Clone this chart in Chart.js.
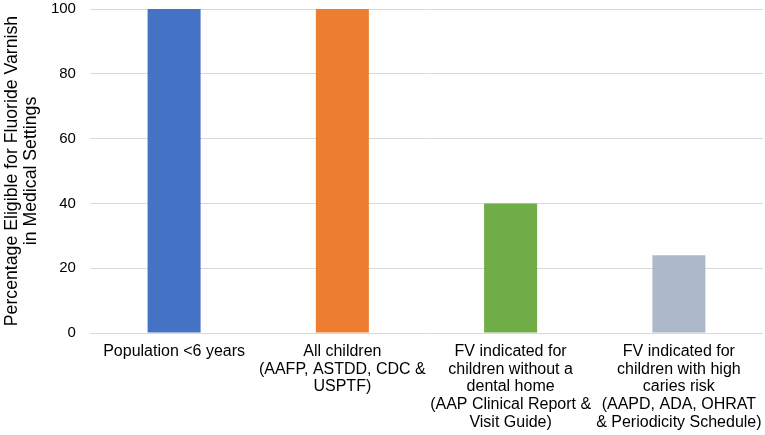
<!DOCTYPE html>
<html lang="en">
<head>
  <meta charset="UTF-8">
  <title>Fluoride Varnish Eligibility</title>
  <script src="https://cdn.jsdelivr.net/npm/chart.js"></script>
  <style>
    body { margin: 0; background: #fff; }
    #wrap { width: 765px; height: 435px; }
  </style>
</head>
<body>
  <div id="wrap"><canvas id="fvChart"></canvas></div>

  <script>
    const categories = [
      'Population <6 years',
      ['All children', '(AAFP, ASTDD, CDC &', 'USPTF)'],
      ['FV indicated for', 'children without a', 'dental home', '(AAP Clinical Report &', 'Visit Guide)'],
      ['FV indicated for', 'children with high', 'caries risk', '(AAPD, ADA, OHRAT', '& Periodicity Schedule)']
    ];
    const eligiblePct = [100, 100, 40, 24];
    const barColors = ['#4472C4', '#ED7D31', '#70AD47', '#ADB9CA'];
    const yTicks = [0, 20, 40, 60, 80, 100];
    const yTitle = ['Percentage Eligible for Fluoride Varnish', 'in Medical Settings'];

    Chart.defaults.font.family = '"Liberation Sans", Arial, sans-serif';
    Chart.defaults.color = '#000';

    new Chart(document.getElementById('fvChart'), {
      type: 'bar',
      data: {
        labels: categories,
        datasets: [{
          data: eligiblePct,
          backgroundColor: barColors,
          barPercentage: 0.315,
          categoryPercentage: 1
        }]
      },
      options: {
        responsive: true,
        maintainAspectRatio: false,
        animation: false,
        layout: { padding: { top: 0, right: 2, left: 0, bottom: 4 } },
        plugins: { legend: { display: false }, tooltip: { enabled: false } },
        scales: {
          x: {
            // hidden tick marks only reserve the gap above the labels
            grid: { display: false, drawTicks: true, tickLength: 10 },
            border: { display: false },
            ticks: { font: { size: 16, lineHeight: 1.1 }, maxRotation: 0, autoSkip: false, padding: 0 }
          },
          y: {
            min: 0,
            max: 100,
            afterBuildTicks: (axis) => { axis.ticks = yTicks.map(v => ({ value: v })); },
            grid: { color: '#d9d9d9', drawTicks: true, tickLength: 14, tickColor: 'rgba(0,0,0,0)' },
            border: { display: false },
            ticks: { font: { size: 15 }, padding: 0 },
            title: {
              display: true, text: yTitle,
              font: { size: 17.7, lineHeight: 1.1 },
              padding: { top: 2, bottom: 10 }
            }
          }
        }
      }
    });
  </script>
</body>
</html>
